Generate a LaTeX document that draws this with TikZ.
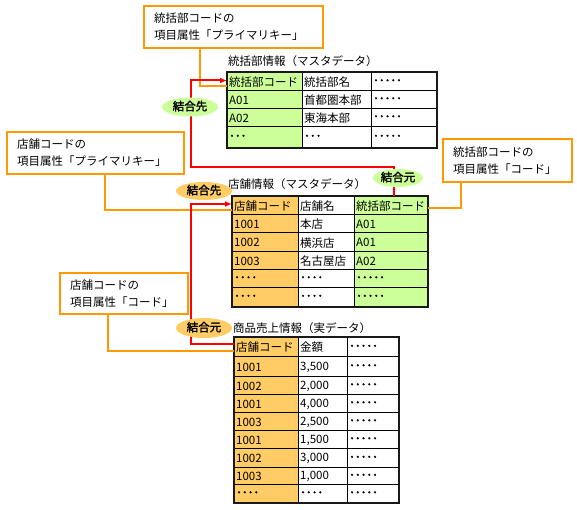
\documentclass[tikz,border=0pt]{standalone}
\usepackage{fontspec}
\setmainfont{Noto Sans CJK JP}
\newfontfamily\jpbold[FakeBold=2]{Noto Sans CJK JP}
\usetikzlibrary{arrows.meta,shapes.geometric}
\definecolor{cor}{HTML}{FFCC66}
\definecolor{cgr}{HTML}{CCFF99}
\definecolor{corline}{HTML}{FF9900}
\definecolor{cred}{HTML}{FF0000}
\tikzset{
  cellbox/.style={draw=black, line width=1pt, rectangle, inner sep=0pt},
  celltext/.style={inner sep=0pt, font=\fontsize{11.5}{13}\selectfont},
  outerframe/.style={draw=black!90, line width=2.2pt},
  tabtitle/.style={inner sep=0pt, anchor=west, font=\fontsize{11.5}{13}\selectfont},
  callout/.style={draw=corline, line width=2pt, fill=white, rectangle, align=left,
    inner xsep=10pt, inner ysep=0pt, anchor=north west, font=\fontsize{11.5}{17}\selectfont},
  oconn/.style={draw=corline, line width=2pt},
  rconn/.style={draw=cred, line width=2pt, -{Latex[length=7pt,width=6pt]}},
  joinell/.style={ellipse, inner sep=0pt, draw=none, text height=9pt, text depth=2pt,
    font=\jpbold\fontsize{11.5}{13}\selectfont}
}
\newcommand\tcell[7]{%
  \node[cellbox, fill=#6, minimum width=#4, minimum height=#5, anchor=north west] (#1) at (#2,#3) {};
  \node[celltext, anchor=west] at ([xshift=2pt,yshift=-0.5pt]#1.west) {#7};}
\newcommand\dd[1]{{\jpbold #1}}
\begin{document}
\begin{tikzpicture}[x=1pt,y=-1pt]
\useasboundingbox (0,0) rectangle (577,510);
\fill[white] (0,0) rectangle (577,510);

% ---------- table 1 ----------
\node[tabtitle] (ti1) at (228,61) {統括部情報（マスタデータ）};
\foreach \r/\y/\h/\a/\b/\c in {h/72/18/統括部コード/統括部名/\dd{･････}, 1/90/18/A01/首都圏本部/\dd{･････}, 2/108/18/A02/東海本部/\dd{･････}, 3/126/21/\dd{･･･}/\dd{･･･}/\dd{･････}}{
  \tcell{t1\r-a}{227}{\y}{75}{\h}{cgr}{\a}
  \tcell{t1\r-b}{302}{\y}{69}{\h}{white}{\b}
  \tcell{t1\r-c}{371}{\y}{65}{\h}{white}{\c}
}
\draw[outerframe] (t1h-a.north west) rectangle (t13-c.south east);

% ---------- table 2 ----------
\node[tabtitle] (ti2) at (228,184) {店舗情報（マスタデータ）};
\foreach \r/\y/\h/\a/\b/\c in {h/196/18/店舗コード/店舗名/統括部コード, 1/214/18.5/1001/本店/A01, 2/232.5/18.5/1002/横浜店/A01, 3/251/18/1003/名古屋店/A02, 4/269/18/\dd{････}/\dd{････}/\dd{･････}, 5/287/19/\dd{････}/\dd{････}/\dd{･････}}{
  \tcell{t2\r-a}{232}{\y}{66}{\h}{cor}{\a}
  \tcell{t2\r-b}{298}{\y}{56}{\h}{white}{\b}
  \tcell{t2\r-c}{354}{\y}{73}{\h}{cgr}{\c}
}
\draw[outerframe] (t2h-a.north west) rectangle (t25-c.south east);

% ---------- table 3 ----------
\node[tabtitle] (ti3) at (233,328) {商品売上情報（実データ）};
\foreach \r/\y/\h/\a/\b in {h/337/19/店舗コード/金額, 1/356/20/1001/{3,500}, 2/376/18/1002/{2,000}, 3/394/18/1001/{4,000}, 4/412/18/1003/{2,500}, 5/430/18/1001/{1,500}, 6/448/19/1002/{3,000}, 7/467/17/1003/{1,000}, 8/484/18/\dd{････}/\dd{････}}{
  \tcell{t3\r-a}{234}{\y}{64}{\h}{cor}{\a}
  \tcell{t3\r-b}{298}{\y}{49}{\h}{white}{\b}
  \tcell{t3\r-c}{347}{\y}{51}{\h}{white}{\dd{･････}}
}
\draw[outerframe] (t3h-a.north west) rectangle (t38-c.south east);

% ---------- callouts ----------
\node[callout, text width=159pt, minimum height=42] (c1) at (143,5) {統括部コードの\\項目属性「プライマリキー」};
\node[callout, text width=157pt, minimum height=42] (c2) at (6,131) {店舗コードの\\項目属性「プライマリキー」};
\node[callout, text width=109pt, minimum height=43] (c3) at (442,138) {統括部コードの\\項目属性「コード」};
\node[callout, text width=108pt, minimum height=41] (c4) at (59,272) {店舗コードの\\項目属性「コード」};

% ---------- orange connectors ----------
\draw[oconn] ([xshift=57pt]c1.south west) |- ([yshift=-5pt]t1h-a.west);
\draw[oconn] ([xshift=99pt]c2.south west) |- ([yshift=-5pt]t2h-a.west);
\draw[oconn] ([xshift=19pt]c3.south west) |- ([yshift=-3pt]t2h-c.east);
\draw[oconn] ([xshift=49pt]c4.south west) |- ([yshift=-3.5pt]t3h-a.west);

% ---------- red join lines ----------
\coordinate (r1) at (191,167);
\draw[rconn] ([xshift=2.5pt]t2h-c.north) |- (r1) |- ([yshift=1pt]t1h-a.west);
\coordinate (r2) at (191,204);
\draw[rconn] ([yshift=3.5pt]t3h-a.west) -| (r2) -- (r2 -| t2h-a.west);

% ---------- join labels ----------
\node[joinell, fill=cgr, minimum width=56, minimum height=19] (e1) at (190,107) {結合先};
\node[joinell, fill=cor, minimum width=56, minimum height=18] (e2) at (204,191) {結合先};
\node[joinell, fill=cgr, minimum width=50, minimum height=18] (e3) at (398,178) {結合元};
\node[joinell, fill=cor, minimum width=56, minimum height=20] (e4) at (204,328) {結合元};
\end{tikzpicture}
\end{document}
